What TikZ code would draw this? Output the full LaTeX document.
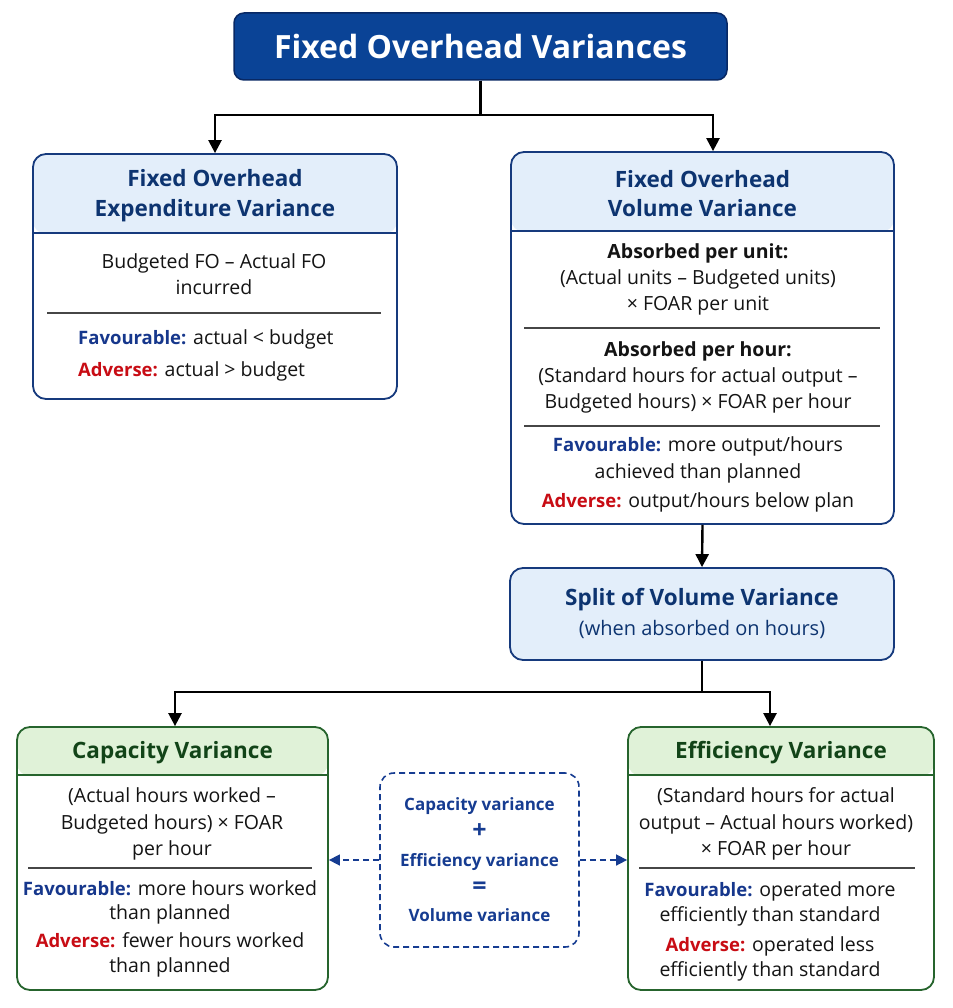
\documentclass[tikz,border=0pt]{standalone}
\usepackage{fontspec}
\setmainfont{Open Sans}
\usetikzlibrary{arrows.meta}
\definecolor{titlefill}{RGB}{10,67,150}
\definecolor{titleborder}{RGB}{8,40,100}
\definecolor{hdrblue}{RGB}{227,238,250}
\definecolor{bdrblue}{RGB}{22,58,125}
\definecolor{txtblue}{RGB}{13,52,112}
\definecolor{hdrgreen}{RGB}{224,242,216}
\definecolor{bdrgreen}{RGB}{38,100,45}
\definecolor{txtgreen}{RGB}{18,68,24}
\definecolor{favblue}{RGB}{22,55,140}
\definecolor{advred}{RGB}{200,12,20}
\definecolor{dashblue}{RGB}{22,60,145}
\definecolor{sepgray}{RGB}{70,70,70}
\definecolor{bodytxt}{RGB}{20,20,20}
\tikzset{
  titlebox/.style={draw=titleborder, fill=titlefill, line width=1.5pt, rounded corners=10pt,
    text=white, font=\fontsize{32}{38}\selectfont\bfseries, inner sep=0pt},
  bluebox/.style 2 args={draw=bdrblue, line width=1.8pt, rounded corners=13pt, fill=white, inner sep=0pt,
    minimum width=#1, minimum height=#2},
  greenbox/.style 2 args={draw=bdrgreen, line width=1.8pt, rounded corners=13pt, fill=white, inner sep=0pt,
    minimum width=#1, minimum height=#2},
  hdrfill/.style 2 args={path picture={\fill[#1] (path picture bounding box.north west) rectangle ([yshift=-#2]path picture bounding box.north east);}},
  hdrtxt/.style={text=txtblue, font=\fontsize{22.5}{30}\selectfont\bfseries, align=center, inner sep=0pt},
  ghdrtxt/.style={text=txtgreen, font=\fontsize{22.5}{30}\selectfont\bfseries, align=center, inner sep=0pt},
  bodytext/.style={text=bodytxt, font=\fontsize{19.5}{26.3}\selectfont, align=center, inner sep=0pt},
  sepline/.style={draw=sepgray, line width=1.1pt},
  arr/.style={line width=2.4pt, -{Triangle[width=13pt,length=13pt]}},
  sumbox/.style={draw=dashblue, line width=1.6pt, dash pattern=on 6pt off 4pt, rounded corners=14pt,
    text=dashblue, font=\fontsize{17}{27.7}\selectfont\bfseries, align=center, inner sep=0pt},
  dasharr/.style={draw=dashblue, line width=1.6pt, dash pattern=on 6pt off 4pt,
    -{Triangle[width=11pt,length=11pt]}},
}
\newcommand\fav{\textcolor{favblue}{\fontsize{18.5}{20}\selectfont\bfseries Favourable:}}
\newcommand\adv{\textcolor{advred}{\fontsize{18.5}{20}\selectfont\bfseries Adverse:}}
\newcommand\bigop[1]{{\fontsize{25}{27.7}\selectfont #1}}
\begin{document}
\begin{tikzpicture}[x=1pt,y=-1pt]
\useasboundingbox (0,0) rectangle (952,1008);

% title
\node[titlebox, minimum width=493pt, minimum height=67pt] (title) at (480.5,46.5) {Fixed Overhead Variances};

% expenditure box
\node[bluebox={364pt}{245pt}, hdrfill={hdrblue}{80pt}] (exp) at (215,276.5) {};
\draw[draw=bdrblue, line width=1.8pt] ([yshift=-80pt]exp.north west) -- ([yshift=-80pt]exp.north east);
\node[hdrtxt] (exph) at (215,196) {Fixed Overhead\\Expenditure Variance};
\node[bodytext] (expb) at (214,274) {Budgeted FO – Actual FO\\incurred};
\coordinate (exps1) at (47,313);
\coordinate (exps2) at (381,313);
\draw[sepline] (exps1) -- (exps2);
\node[bodytext, align=left, anchor=west, font=\fontsize{19.5}{32}\selectfont] (expf) at (78,355)
  {\fav{} actual < budget\\\adv{} actual > budget};

% volume box
\node[bluebox={383pt}{372pt}, hdrfill={hdrblue}{80pt}] (vol) at (702.5,338) {};
\draw[draw=bdrblue, line width=1.8pt] ([yshift=-80pt]vol.north west) -- ([yshift=-80pt]vol.north east);
\node[hdrtxt, font=\fontsize{22.5}{29}\selectfont\bfseries] (volh) at (702.5,193.5) {Fixed Overhead\\Volume Variance};
\node[bodytext] (volb1) at (698,279.5) {\textbf{Absorbed per unit:}\\(Actual units – Budgeted units)\\× FOAR per unit};
\coordinate (vols1) at (524,328);
\coordinate (vols2) at (880,328);
\draw[sepline] (vols1) -- (vols2);
\node[bodytext] (volb2) at (698,377.5) {\textbf{Absorbed per hour:}\\(Standard hours for actual output –\\Budgeted hours) × FOAR per hour};
\coordinate (vols3) at (524,426);
\coordinate (vols4) at (880,426);
\draw[sepline] (vols3) -- (vols4);
\node[bodytext] (volf) at (698,474.5) {\fav{} more output/hours\\achieved than planned\\[3pt]\adv{} output/hours below plan};

% split box
\node[bluebox={384pt}{92pt}, fill=hdrblue] (split) at (702,614) {};
\node[hdrtxt] (splith) at (702,600) {Split of Volume Variance};
\node[bodytext, text=txtblue, font=\fontsize{20}{26}\selectfont] (splits) at (702,629) {(when absorbed on hours)};

% capacity box
\node[greenbox={311pt}{263pt}, hdrfill={hdrgreen}{49pt}] (cap) at (172.5,858.5) {};
\draw[draw=bdrgreen, line width=1.8pt] ([yshift=-49pt]cap.north west) -- ([yshift=-49pt]cap.north east);
\node[ghdrtxt] (caph) at (172.5,753) {Capacity Variance};
\node[bodytext] (capb) at (172,824) {(Actual hours worked –\\Budgeted hours) × FOAR\\per hour};
\coordinate (caps1) at (28,868);
\coordinate (caps2) at (312,868);
\draw[sepline] (caps1) -- (caps2);
\node[bodytext, font=\fontsize{19.5}{24.5}\selectfont] (capf) at (170,928.5) {\fav{} more hours worked\\than planned\\[3.5pt]\adv{} fewer hours worked\\than planned};

% efficiency box
\node[greenbox={306pt}{263pt}, hdrfill={hdrgreen}{49pt}] (eff) at (781,858.5) {};
\draw[draw=bdrgreen, line width=1.8pt] ([yshift=-49pt]eff.north west) -- ([yshift=-49pt]eff.north east);
\node[ghdrtxt] (effh) at (781,753) {Efficiency Variance};
\node[bodytext] (effb) at (776,824) {(Standard hours for actual\\output – Actual hours worked)\\× FOAR per hour};
\coordinate (effs1) at (639,868);
\coordinate (effs2) at (915,868);
\draw[sepline] (effs1) -- (effs2);
\node[bodytext, font=\fontsize{19.5}{25}\selectfont] (efff) at (770,931) {\fav{} operated more\\efficiently than standard\\[5pt]\adv{} operated less\\efficiently than standard};

% sum box
\node[sumbox, minimum width=199pt, minimum height=174pt] (sum) at (479.5,860) {Capacity variance\\\bigop{+}\\Efficiency variance\\\bigop{=}\\Volume variance};

% connectors
\coordinate (volin) at ([xshift=10.5pt]vol.north);
\draw[arr] (title.south) -- ++(0,34) -| (exp.north);
\draw[arr] (title.south) -- ++(0,34) -| (volin);
\draw[arr] (vol.south) -- (split.north);
\coordinate (capin) at ([xshift=2.5pt]cap.north);
\coordinate (effin) at ([xshift=-11pt]eff.north);
\draw[arr] (split.south) -- ++(0,31) -| (capin);
\draw[arr] (split.south) -- ++(0,31) -| (effin);
\draw[dasharr] (sum.west) -- (sum.west -| cap.east);
\draw[dasharr] (sum.east) -- (sum.east -| eff.west);
\end{tikzpicture}
\end{document}
